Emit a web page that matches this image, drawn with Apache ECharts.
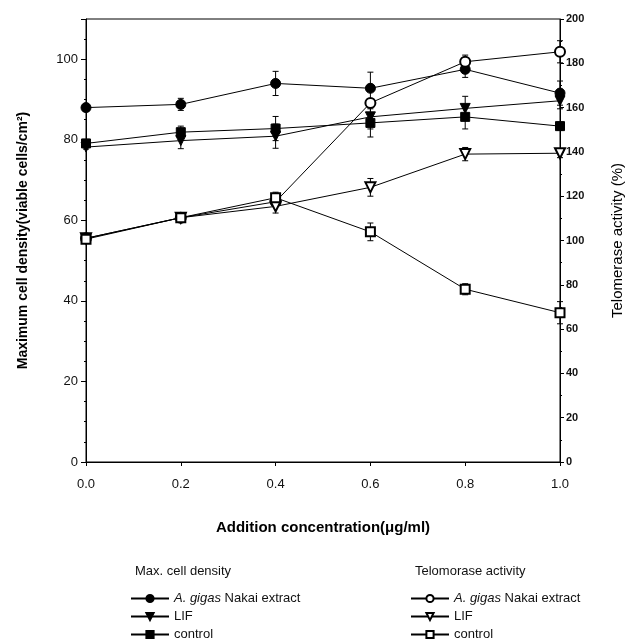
<!DOCTYPE html>
<html>
<head>
<meta charset="utf-8">
<script src="https://cdn.jsdelivr.net/npm/echarts@6/dist/echarts.min.js"></script>
<style>
  html, body { margin: 0; padding: 0; background: #fff; }
  #chart { width: 633px; height: 639px; }
</style>
</head>
<body>
<div id="chart"></div>
<script>
// concentration (ug/ml)
var conc = [0, 0.2, 0.4, 0.6, 0.8, 1.0];

// max cell density (left axis)
var densAgigas = [88, 88.8, 94, 92.8, 97.5, 91.6];
var densAgigasErr = [0.6, 1.5, 3, 4, 2, 3];
var densLif = [78.2, 79.8, 80.9, 85.7, 87.8, 89.7];
var densLifErr = [0.5, 2, 3, 3, 3, 2];
var densControl = [79.1, 81.9, 82.8, 84.2, 85.7, 83.4];
var densControlErr = [1, 1.5, 3, 3.5, 3, 1];

// telomerase activity % (right axis)
var telAgigas = [101, 110.3, 117.5, 162.1, 180.7, 185.2];
var telAgigasErr = [0, 0, 0, 2, 3, 5];
var telLif = [101, 110.3, 115.4, 124, 139, 139.4];
var telLifErr = [0, 1, 3, 4, 3, 2];
var telControl = [100.6, 110.3, 119.3, 103.9, 78, 67.4];
var telControlErr = [1, 1, 2.5, 4, 2.5, 5];

var labels = {
  dA: 'A. gigas Nakai extract', dL: 'LIF', dC: 'control',
  tA: 'A. gigas Nakai extract', tL: 'LIF', tC: 'control'
};

var chart = echarts.init(document.getElementById('chart'));

function pairs(ys) {
  return conc.map(function (x, i) { return [x, ys[i]]; });
}
function triples(ys, es) {
  return conc.map(function (x, i) { return [x, ys[i], es[i]]; });
}

// vertical error bar with caps
function errRender(params, api) {
  var x = api.value(0), y = api.value(1), e = api.value(2);
  if (!e) return null;
  var top = api.coord([x, y + e]);
  var bot = api.coord([x, y - e]);
  var w = 3;
  var st = { stroke: '#000', lineWidth: 1 };
  return {
    type: 'group',
    children: [
      { type: 'line', shape: { x1: top[0], y1: top[1], x2: bot[0], y2: bot[1] }, style: st },
      { type: 'line', shape: { x1: top[0] - w, y1: top[1], x2: top[0] + w, y2: top[1] }, style: st },
      { type: 'line', shape: { x1: bot[0] - w, y1: bot[1], x2: bot[0] + w, y2: bot[1] }, style: st }
    ]
  };
}

function lineSeries(name, ys, axis, symbol, rotate, size) {
  return {
    name: name,
    type: 'line',
    yAxisIndex: axis,
    data: pairs(ys),
    symbol: symbol,
    symbolSize: size,
    symbolRotate: rotate,
    showAllSymbol: true,
    clip: false,
    lineStyle: { color: '#000', width: 1 },
    itemStyle: { color: '#000', borderColor: '#000', borderWidth: 1 },
    z: 3
  };
}

function errSeries(ys, es, axis) {
  return {
    type: 'custom',
    yAxisIndex: axis,
    renderItem: errRender,
    data: triples(ys, es),
    clip: false,
    silent: true,
    z: 2
  };
}

var font = 'Liberation Sans, Arial, sans-serif';

function legendFmt(name) {
  var t = labels[name];
  if (t.indexOf('A. gigas') === 0) {
    return '{i|A. gigas}' + t.slice(8);
  }
  return t;
}

var legendText = {
  fontFamily: font, fontSize: 13, color: '#111', lineHeight: 15,
  rich: { i: { fontStyle: 'italic', fontFamily: font, fontSize: 13, color: '#111', lineHeight: 15 } }
};

var option = {
  backgroundColor: '#fff',
  animation: false,
  grid: {
    left: 86, right: 66, top: 19, bottom: 177,
    show: true, borderColor: '#000', borderWidth: 1, backgroundColor: 'transparent'
  },
  xAxis: {
    type: 'value',
    min: 0, max: 1, interval: 0.2,
    name: 'Addition concentration(\u03bcg/ml)',
    nameLocation: 'middle',
    nameGap: 58,
    nameTextStyle: { fontFamily: font, fontSize: 15, fontWeight: 'bold', color: '#000' },
    axisLine: { lineStyle: { color: '#000', width: 1 } },
    axisTick: { show: true, length: 4, lineStyle: { color: '#000' } },
    axisLabel: {
      margin: 16, fontFamily: font, fontSize: 13, color: '#111',
      formatter: function (v) { return v.toFixed(1); }
    },
    splitLine: { show: false }
  },
  yAxis: [{
    type: 'value',
    position: 'left',
    min: 0, max: 110, interval: 20,
    name: 'Maximum cell density(viable cells/cm\u00b2)',
    nameLocation: 'middle',
    nameRotate: 90,
    nameGap: 56,
    nameTextStyle: { fontFamily: font, fontSize: 14, fontWeight: 'bold', color: '#000' },
    axisLine: { show: true, lineStyle: { color: '#000', width: 1 } },
    axisTick: { show: true, length: 5, lineStyle: { color: '#000' } },
    minorTick: { show: true, splitNumber: 4, length: 2, lineStyle: { color: '#000' } },
    axisLabel: {
      margin: 8, fontFamily: font, fontSize: 13, color: '#111', showMaxLabel: false,
      formatter: function (v) { return v > 100 ? '' : v; }
    },
    splitLine: { show: false }
  }, {
    type: 'value',
    position: 'right',
    min: 0, max: 200, interval: 20,
    name: 'Telomerase activity (%)',
    nameLocation: 'middle',
    nameRotate: 90,
    nameGap: 50,
    nameTextStyle: { fontFamily: font, fontSize: 15, color: '#000' },
    axisLine: { show: true, lineStyle: { color: '#000', width: 1 } },
    axisTick: { show: true, length: 4, lineStyle: { color: '#000' } },
    minorTick: { show: true, splitNumber: 2, length: 2, lineStyle: { color: '#000' } },
    axisLabel: { margin: 6, fontFamily: font, fontSize: 11, fontWeight: 'bold', color: '#111' },
    splitLine: { show: false }
  }],
  legend: [{
    orient: 'vertical',
    left: 125, top: 586, height: 60,
    itemWidth: 38, itemHeight: 9, itemGap: 3,
    data: ['dA', 'dL', 'dC'],
    formatter: legendFmt,
    textStyle: legendText
  }, {
    orient: 'vertical',
    left: 405, top: 586, height: 60,
    itemWidth: 38, itemHeight: 9, itemGap: 3,
    data: ['tA', 'tL', 'tC'],
    formatter: legendFmt,
    textStyle: legendText
  }],
  graphic: [{
    type: 'text', left: 135, top: 565,
    style: { text: 'Max. cell density', font: '13px ' + font, fill: '#111' }
  }, {
    type: 'text', left: 415, top: 565,
    style: { text: 'Telomorase activity', font: '13px ' + font, fill: '#111' }
  }],
  series: [
    errSeries(densAgigas, densAgigasErr, 0),
    errSeries(densLif, densLifErr, 0),
    errSeries(densControl, densControlErr, 0),
    errSeries(telAgigas, telAgigasErr, 1),
    errSeries(telLif, telLifErr, 1),
    errSeries(telControl, telControlErr, 1),
    lineSeries('dA', densAgigas, 0, 'circle', 0, 10),
    lineSeries('dL', densLif, 0, 'triangle', 180, 10),
    lineSeries('dC', densControl, 0, 'rect', 0, 9),
    lineSeries('tA', telAgigas, 1, 'emptyCircle', 0, 10),
    lineSeries('tL', telLif, 1, 'emptyTriangle', 180, 10),
    lineSeries('tC', telControl, 1, 'emptyRect', 0, 9)
  ]
};

chart.setOption(option);
</script>
</body>
</html>
